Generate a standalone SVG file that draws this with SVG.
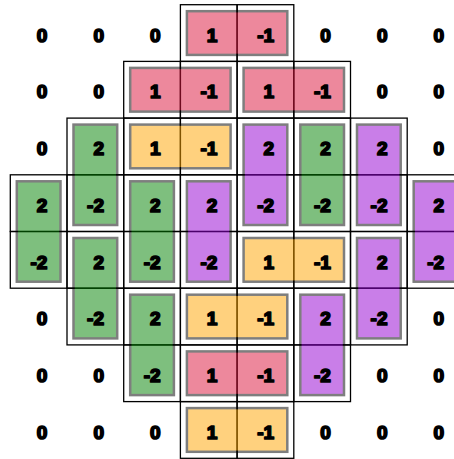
<svg xmlns="http://www.w3.org/2000/svg" width="454" height="459" viewBox="0 0 454 459">
<style>
.c{fill:none;stroke:#000;stroke-width:1.3}
.d{stroke:#000;stroke-width:2.5;opacity:0.5}
.r{fill:#dc143c}.o{fill:#ffa500}.g{fill:#008000}.p{fill:#9400d3}
text{font-family:"Liberation Sans",Arial,sans-serif;font-weight:bold;font-size:19px;text-anchor:end;fill:#000;stroke:#000;stroke-width:1.7;stroke-linejoin:round}
</style>
<rect width="454" height="459" fill="#fff"/>
<defs>
<g id="hc"><rect class="c" x="0" y="0" width="56.7" height="56.7"/><rect class="c" x="56.7" y="0" width="56.7" height="56.7"/></g>
<g id="vc"><rect class="c" x="0" y="0" width="56.7" height="56.7"/><rect class="c" x="0" y="56.7" width="56.7" height="56.7"/></g>
</defs>
<g id="d1"><use href="#hc" x="180.4" y="4.7"/><rect class="d r" x="186.9" y="11.2" width="100.4" height="43.7"/><text x="217.4" y="41.7">1</text><text x="274.1" y="41.7">-1</text></g>
<g id="d2"><use href="#hc" x="123.7" y="61.4"/><rect class="d r" x="130.2" y="67.9" width="100.4" height="43.7"/><text x="160.7" y="98.4">1</text><text x="217.4" y="98.4">-1</text></g>
<g id="d3"><use href="#hc" x="237.1" y="61.4"/><rect class="d r" x="243.6" y="67.9" width="100.4" height="43.7"/><text x="274.1" y="98.4">1</text><text x="330.8" y="98.4">-1</text></g>
<g id="d4"><use href="#vc" x="67" y="118.1"/><rect class="d g" x="73.5" y="124.6" width="43.7" height="100.4"/><text x="104" y="155.1">2</text><text x="104" y="211.8">-2</text></g>
<g id="d5"><use href="#hc" x="123.7" y="118.1"/><rect class="d o" x="130.2" y="124.6" width="100.4" height="43.7"/><text x="160.7" y="155.1">1</text><text x="217.4" y="155.1">-1</text></g>
<g id="d6"><use href="#vc" x="237.1" y="118.1"/><rect class="d p" x="243.6" y="124.6" width="43.7" height="100.4"/><text x="274.1" y="155.1">2</text><text x="274.1" y="211.8">-2</text></g>
<g id="d7"><use href="#vc" x="293.8" y="118.1"/><rect class="d g" x="300.3" y="124.6" width="43.7" height="100.4"/><text x="330.8" y="155.1">2</text><text x="330.8" y="211.8">-2</text></g>
<g id="d8"><use href="#vc" x="350.5" y="118.1"/><rect class="d p" x="357" y="124.6" width="43.7" height="100.4"/><text x="387.5" y="155.1">2</text><text x="387.5" y="211.8">-2</text></g>
<g id="d9"><use href="#vc" x="10.3" y="174.8"/><rect class="d g" x="16.8" y="181.3" width="43.7" height="100.4"/><text x="47.3" y="211.8">2</text><text x="47.3" y="268.5">-2</text></g>
<g id="d10"><use href="#vc" x="123.7" y="174.8"/><rect class="d g" x="130.2" y="181.3" width="43.7" height="100.4"/><text x="160.7" y="211.8">2</text><text x="160.7" y="268.5">-2</text></g>
<g id="d11"><use href="#vc" x="180.4" y="174.8"/><rect class="d p" x="186.9" y="181.3" width="43.7" height="100.4"/><text x="217.4" y="211.8">2</text><text x="217.4" y="268.5">-2</text></g>
<g id="d12"><use href="#vc" x="407.2" y="174.8"/><rect class="d p" x="413.7" y="181.3" width="43.7" height="100.4"/><text x="444.2" y="211.8">2</text><text x="444.2" y="268.5">-2</text></g>
<g id="d13"><use href="#vc" x="67" y="231.5"/><rect class="d g" x="73.5" y="238" width="43.7" height="100.4"/><text x="104" y="268.5">2</text><text x="104" y="325.2">-2</text></g>
<g id="d14"><use href="#hc" x="237.1" y="231.5"/><rect class="d o" x="243.6" y="238" width="100.4" height="43.7"/><text x="274.1" y="268.5">1</text><text x="330.8" y="268.5">-1</text></g>
<g id="d15"><use href="#vc" x="350.5" y="231.5"/><rect class="d p" x="357" y="238" width="43.7" height="100.4"/><text x="387.5" y="268.5">2</text><text x="387.5" y="325.2">-2</text></g>
<g id="d16"><use href="#vc" x="123.7" y="288.2"/><rect class="d g" x="130.2" y="294.7" width="43.7" height="100.4"/><text x="160.7" y="325.2">2</text><text x="160.7" y="381.9">-2</text></g>
<g id="d17"><use href="#hc" x="180.4" y="288.2"/><rect class="d o" x="186.9" y="294.7" width="100.4" height="43.7"/><text x="217.4" y="325.2">1</text><text x="274.1" y="325.2">-1</text></g>
<g id="d18"><use href="#vc" x="293.8" y="288.2"/><rect class="d p" x="300.3" y="294.7" width="43.7" height="100.4"/><text x="330.8" y="325.2">2</text><text x="330.8" y="381.9">-2</text></g>
<g id="d19"><use href="#hc" x="180.4" y="344.9"/><rect class="d r" x="186.9" y="351.4" width="100.4" height="43.7"/><text x="217.4" y="381.9">1</text><text x="274.1" y="381.9">-1</text></g>
<g id="d20"><use href="#hc" x="180.4" y="401.6"/><rect class="d o" x="186.9" y="408.1" width="100.4" height="43.7"/><text x="217.4" y="438.6">1</text><text x="274.1" y="438.6">-1</text></g>
<g id="zeros">
<text x="47.3" y="41.7">0</text><text x="104" y="41.7">0</text><text x="160.7" y="41.7">0</text><text x="330.8" y="41.7">0</text><text x="387.5" y="41.7">0</text><text x="444.2" y="41.7">0</text>
<text x="47.3" y="98.4">0</text><text x="104" y="98.4">0</text><text x="387.5" y="98.4">0</text><text x="444.2" y="98.4">0</text>
<text x="47.3" y="155.1">0</text><text x="444.2" y="155.1">0</text>
<text x="47.3" y="325.2">0</text><text x="444.2" y="325.2">0</text>
<text x="47.3" y="381.9">0</text><text x="104" y="381.9">0</text><text x="387.5" y="381.9">0</text><text x="444.2" y="381.9">0</text>
<text x="47.3" y="438.6">0</text><text x="104" y="438.6">0</text><text x="160.7" y="438.6">0</text><text x="330.8" y="438.6">0</text><text x="387.5" y="438.6">0</text><text x="444.2" y="438.6">0</text>
</g>
</svg>
